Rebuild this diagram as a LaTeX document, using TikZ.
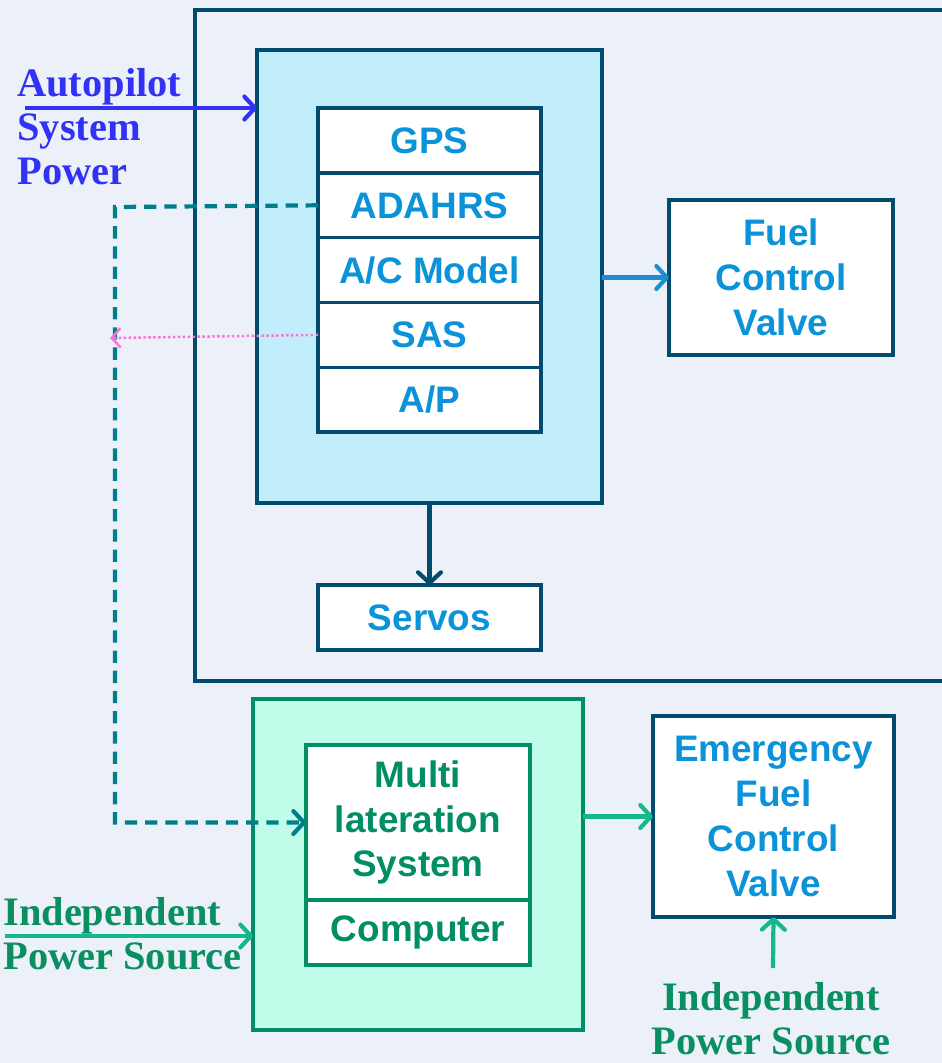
\documentclass[tikz,border=0pt]{standalone}
\usepackage{fontspec}
\setmainfont{Liberation Serif}
\newfontfamily\boxfont{Liberation Sans}
\usepackage{tikz}
\usetikzlibrary{arrows.meta}

\definecolor{navy}{RGB}{0,75,110}
\definecolor{boxtext}{RGB}{10,147,217}
\definecolor{skyfill}{RGB}{194,238,252}
\definecolor{greenline}{RGB}{0,142,100}
\definecolor{greenfill}{RGB}{191,252,234}
\definecolor{greenarrow}{RGB}{20,185,135}
\definecolor{greentext}{RGB}{10,143,96}
\definecolor{aptext}{RGB}{50,50,245}
\definecolor{fuelarrow}{RGB}{30,140,208}
\definecolor{pinkdot}{RGB}{255,112,216}
\definecolor{dashteal}{RGB}{0,126,140}
\definecolor{backsky}{RGB}{236,241,249}

\begin{document}
\begin{tikzpicture}[x=0.02cm, y=-0.02cm,
    block/.style={draw=navy, line width=2pt, fill=white, outer sep=0pt,
      text=boxtext, font=\boxfont\bfseries\fontsize{21}{25.5}\selectfont,
      align=center, inner sep=0pt},
    rowbox/.style={block, minimum width=4.46cm, minimum height=1.296cm},
    gblock/.style={block, draw=greenline, text=greenline},
    sidelabel/.style={font=\bfseries\fontsize{23}{25}\selectfont, align=left, inner sep=0pt},
    feed/.style={line width=2.4pt, -{Straight Barb[round,length=6pt,width=13pt]}}]

    \useasboundingbox[fill=backsky] (0,0) rectangle (942,1063);

    \draw[navy, line width=2.3pt] (195,10) rectangle (980,681);

    \node[block, fill=skyfill, line width=2.3pt, minimum width=6.9cm, minimum height=9.06cm] (ap) at (429.5,276.5) {};

    \node[rowbox] (gps) at (429.5,140.5) {GPS};

    \node[rowbox] (adahrs) at (429.5,205.3) {ADAHRS};

    \node[rowbox] (acmodel) at (429.5,270.1) {A/C Model};

    \node[rowbox] (sas) at (429.5,334.9) {SAS};

    \node[rowbox] (autop) at (429.5,399.7) {A/P};

    \node[rowbox, minimum height=1.3cm] (servos) at (429.5,617.5) {Servos};

    \node[block, minimum width=4.48cm, minimum height=3.1cm] (fuel) at (781,277.5) {Fuel\\Control\\Valve};

    \node[gblock, fill=greenfill, line width=2.3pt, minimum width=6.6cm, minimum height=6.62cm] (mlat) at (418,864.5) {};

    \node[gblock, minimum width=4.48cm, minimum height=3.1cm] (multi) at (418,822.5) {Multi\\lateration\\System};

    \node[gblock, minimum width=4.48cm, minimum height=1.3cm] (computer) at (418,932.5) {Computer};

    \node[block, minimum width=4.82cm, minimum height=4.02cm] (emerg) at (773.5,816.5) {Emergency\\Fuel\\Control\\Valve};

    \node[sidelabel, text=aptext, anchor=north west] (aplabel) at (17,68) {Autopilot\\System\\Power};

    \node[sidelabel, text=greentext, anchor=north west] (indleft) at (3,897) {Independent\\Power Source};

    \node[sidelabel, text=greentext, anchor=north, align=center] (indright) at (771,982) {Independent\\Power Source};

    \coordinate (apin) at (25,108);

    \coordinate (indin) at (5,936);

    \coordinate (indup) at (773,968);

    \coordinate (dashcorner) at (115,207);

    \coordinate (sastip) at (110,338);

    \draw[feed, aptext] (apin) -- (apin -| ap.west);

    \draw[feed, fuelarrow] (ap.east |- fuel.west) -- (fuel.west);

    \draw[feed, navy] (ap.south) -- (servos.north);

    \draw[feed, dashteal, dash pattern=on 7pt off 4.5pt] (adahrs.west) -- (dashcorner) |- (multi.west);

    \draw[pinkdot, line width=1.4pt, dash pattern=on 1.4pt off 1.4pt, -{Straight Barb[length=5pt,width=11pt]}] (sas.west) -- (sastip);

    \draw[feed, greenarrow] (mlat.east |- emerg.west) -- (emerg.west);

    \draw[feed, greenarrow] (indup) -- (emerg.south);

    \draw[feed, greenarrow] (indin) -- (indin -| mlat.west);

  \end{tikzpicture}
\end{document}
